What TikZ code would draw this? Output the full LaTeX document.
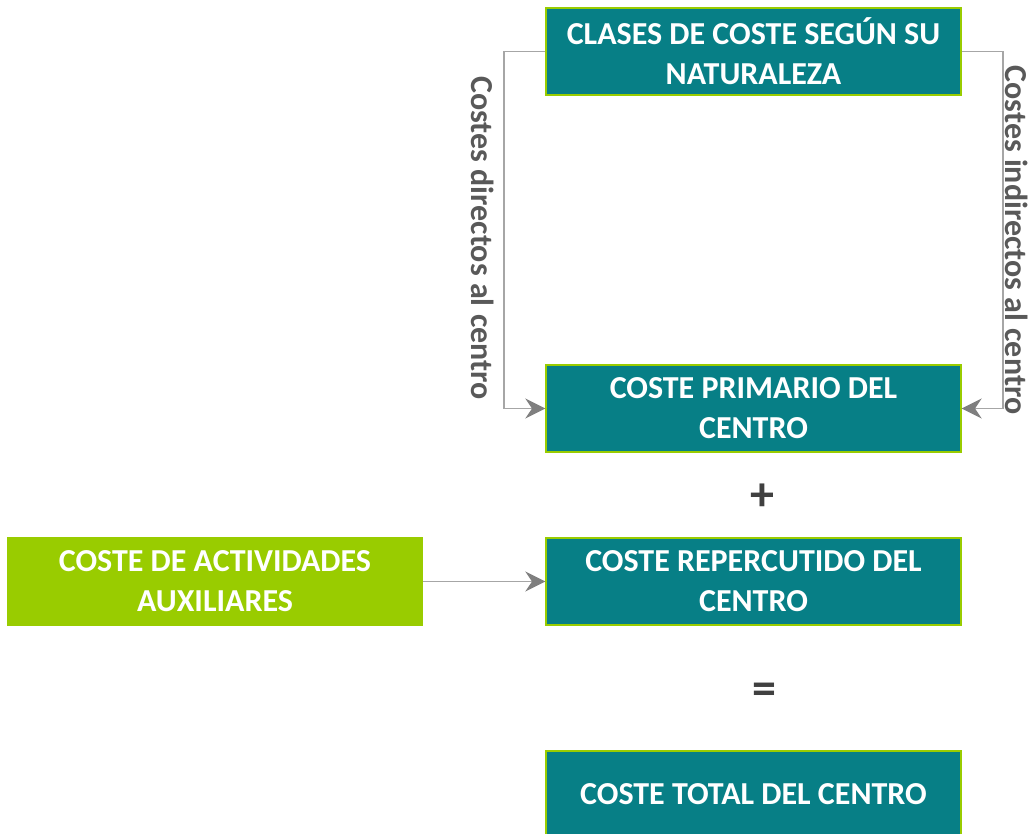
\documentclass[tikz,border=0pt]{standalone}
\usepackage{fontspec}
\setmainfont{Carlito}
\usetikzlibrary{arrows.meta}

\definecolor{tealbox}{HTML}{077F86}
\definecolor{limebox}{HTML}{99CC00}
\definecolor{linegray}{HTML}{A6A6A6}
\definecolor{tipgray}{HTML}{7F7F7F}
\definecolor{labelgray}{HTML}{595959}

\tikzset{
  costbox/.style={draw=limebox, line width=1pt, fill=tealbox, text=white,
    minimum width=415*0.75pt, minimum height=87*0.75pt, align=center,
    inner sep=0pt, font=\fontsize{24}{30}\selectfont\bfseries},
  auxbox/.style={costbox, fill=limebox},
  flow/.style={draw=linegray, line width=1.2pt,
    -{Stealth[length=15pt, width=15pt, inset=5pt, color=tipgray]}},
  sidelabel/.style={text=labelgray, rotate=-90, font=\fontsize{24}{28}\selectfont\bfseries},
  opsign/.style={text=black!75, font=\fontsize{36}{36}\selectfont\bfseries}
}

\begin{document}
\begin{tikzpicture}[x=0.75pt, y=-0.75pt]
\useasboundingbox (0,0) rectangle (1031,833);

% main column
\node[costbox] (clases) at (753.5,51.5) {CLASES DE COSTE SEGÚN SU\\NATURALEZA};
\node[costbox] (primario) at (753.5,408.5) {COSTE PRIMARIO DEL\\CENTRO};
\node[costbox] (repercutido) at (753.5,581.5) {COSTE REPERCUTIDO DEL\\CENTRO};
\node[costbox] (total) at (753.5,794.5) {COSTE TOTAL DEL CENTRO};

% auxiliary activities
\node[auxbox] (auxiliar) at (215,581.5) {COSTE DE ACTIVIDADES\\AUXILIARES};

% signs
\node[opsign] (mas) at (762,497) {+};
\node[opsign] (igual) at (764,694) {=};

% side branches
\coordinate (izq) at (504,0);
\coordinate (der) at (1003,0);
\draw[flow] (clases.west) -| (izq |- primario.west) -- (primario.west);
\draw[flow] (clases.east) -| (der |- primario.east) -- (primario.east);
\draw[flow] (auxiliar.east) -- (repercutido.west);

\node[sidelabel] (directos) at (483,238) {Costes directos al centro};
\node[sidelabel] (indirectos) at (1017,240) {Costes indirectos al centro};
\end{tikzpicture}
\end{document}
